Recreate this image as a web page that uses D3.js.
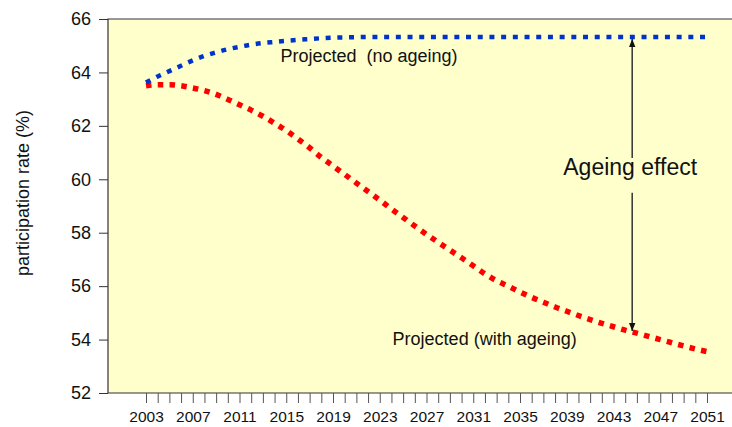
<!DOCTYPE html>
<html>
<head>
<meta charset="utf-8">
<script src="https://cdn.jsdelivr.net/npm/d3@7"></script>
<style>
  body { margin: 0; background: #fff; }
  text { font-family: "Liberation Sans", Arial, sans-serif; fill: #111; }
</style>
</head>
<body>
<div id="chart"></div>
<script>
var svgWidth = 732;
var svgHeight = 427;

var margin = { top: 19, right: 0, bottom: 34, left: 108 };

var width = svgWidth - margin.left - margin.right;
var height = svgHeight - margin.top - margin.bottom;

// data
var years = d3.range(2003, 2052);
var noAgeing = [63.62, 63.85, 64.05, 64.25, 64.45, 64.62, 64.75, 64.87, 64.96, 65.04,
  65.10, 65.14, 65.18, 65.22, 65.25, 65.28, 65.30, 65.31, 65.32, 65.33,
  65.33, 65.33, 65.33, 65.33, 65.33, 65.33, 65.33, 65.33, 65.33, 65.33,
  65.33, 65.33, 65.33, 65.33, 65.33, 65.33, 65.33, 65.33, 65.33, 65.33,
  65.33, 65.33, 65.33, 65.33, 65.33, 65.33, 65.33, 65.33, 65.33];
var withAgeing = [63.50, 63.54, 63.54, 63.50, 63.42, 63.32, 63.18, 62.99, 62.79, 62.59,
  62.36, 62.10, 61.82, 61.51, 61.18, 60.82, 60.50, 60.18, 59.86, 59.54,
  59.22, 58.89, 58.57, 58.25, 57.94, 57.64, 57.35, 57.06, 56.76, 56.46,
  56.20, 56.00, 55.78, 55.58, 55.40, 55.22, 55.06, 54.90, 54.75, 54.61,
  54.48, 54.35, 54.24, 54.12, 54.00, 53.88, 53.76, 53.65, 53.55];
var yTicks = [52, 54, 56, 58, 60, 62, 64, 66];
var xLabels = d3.range(2003, 2052, 4);

var svg = d3.select("#chart")
  .append("svg")
  .attr("width", svgWidth)
  .attr("height", svgHeight);

var chart = svg.append("g")
  .attr("transform", "translate(" + margin.left + "," + margin.top + ")");

var xScale = d3.scaleLinear().domain([2003, 2051]).range([38, 599]);
var yScale = d3.scaleLinear().domain([52, 66]).range([height, 0]);

// plot background
chart.append("rect")
  .attr("x", 0)
  .attr("y", 0)
  .attr("width", width)
  .attr("height", height)
  .attr("fill", "#ffffcc");

chart.append("path")
  .attr("d", "M" + width + ",0H0V" + height + "H" + width)
  .attr("fill", "none")
  .attr("stroke", "#333")
  .attr("stroke-width", 1.2);

// y axis
var leftAxis = d3.axisLeft(yScale)
  .tickValues(yTicks)
  .tickSize(9)
  .tickPadding(8);

var yAxis = chart.append("g").call(leftAxis);
yAxis.select(".domain").remove();
yAxis.selectAll("line").attr("stroke", "#333");
yAxis.selectAll("text")
  .style("font-size", "18px")
  .attr("fill", "#111")
  .attr("font-family", "Liberation Sans, Arial, sans-serif");

// x axis: a tick every year, a label every 4 years
var bottomAxis = d3.axisBottom(xScale)
  .tickValues(years)
  .tickSize(10)
  .tickPadding(8)
  .tickFormat(function(d) {
    return xLabels.indexOf(d) >= 0 ? d : "";
  });

var xAxis = chart.append("g")
  .attr("transform", "translate(0," + height + ")")
  .call(bottomAxis);
xAxis.select(".domain").remove();
xAxis.selectAll("line").attr("stroke", "#555");
xAxis.selectAll("text")
  .style("font-size", "15.5px")
  .attr("fill", "#111")
  .attr("font-family", "Liberation Sans, Arial, sans-serif");

// y axis title
svg.append("text")
  .attr("transform", "translate(29,193) rotate(-90)")
  .attr("text-anchor", "middle")
  .style("font-size", "18px")
  .text("participation rate (%)");

// lines
var line = d3.line()
  .x(function(d) { return xScale(d.year); })
  .y(function(d) { return yScale(d.value); })
  .curve(d3.curveMonotoneX);

function toPoints(values) {
  return years.map(function(year, i) {
    return { year: year, value: values[i] };
  });
}

chart.append("path")
  .datum(toPoints(withAgeing))
  .attr("d", line)
  .attr("fill", "none")
  .attr("stroke", "#ff0000")
  .attr("stroke-width", 5.5)
  .attr("stroke-dasharray", "5.5,6.3");

chart.append("path")
  .datum(toPoints(noAgeing))
  .attr("d", line)
  .attr("fill", "none")
  .attr("stroke", "#0033cc")
  .attr("stroke-width", 4.5)
  .attr("stroke-dasharray", "5,6.7");

// series labels
chart.append("text")
  .attr("x", xScale(2014.5))
  .attr("y", yScale(64.39))
  .style("font-size", "18px")
  .attr("xml:space", "preserve")
  .text("Projected  (no ageing)");

chart.append("text")
  .attr("x", xScale(2024.1))
  .attr("y", yScale(53.8))
  .style("font-size", "18px")
  .text("Projected (with ageing)");

// ageing effect arrow
var arrowYear = 2044.6;

svg.append("defs").append("marker")
  .attr("id", "head")
  .attr("viewBox", "0 0 10 10")
  .attr("refX", 10)
  .attr("refY", 5)
  .attr("markerUnits", "userSpaceOnUse")
  .attr("markerWidth", 8)
  .attr("markerHeight", 8)
  .attr("orient", "auto")
  .append("path")
  .attr("d", "M0,1L10,5L0,9Z")
  .attr("fill", "#111");

chart.append("line")
  .attr("x1", xScale(arrowYear))
  .attr("x2", xScale(arrowYear))
  .attr("y1", yScale(60.8))
  .attr("y2", yScale(65.25))
  .attr("stroke", "#333")
  .attr("stroke-width", 1.5)
  .attr("marker-end", "url(#head)");

chart.append("line")
  .attr("x1", xScale(arrowYear))
  .attr("x2", xScale(arrowYear))
  .attr("y1", yScale(59.5))
  .attr("y2", yScale(54.32))
  .attr("stroke", "#333")
  .attr("stroke-width", 1.5)
  .attr("marker-end", "url(#head)");

chart.append("text")
  .attr("x", xScale(arrowYear) - 2)
  .attr("y", yScale(60.16))
  .attr("text-anchor", "middle")
  .style("font-size", "23px")
  .text("Ageing effect");
</script>
</body>
</html>
